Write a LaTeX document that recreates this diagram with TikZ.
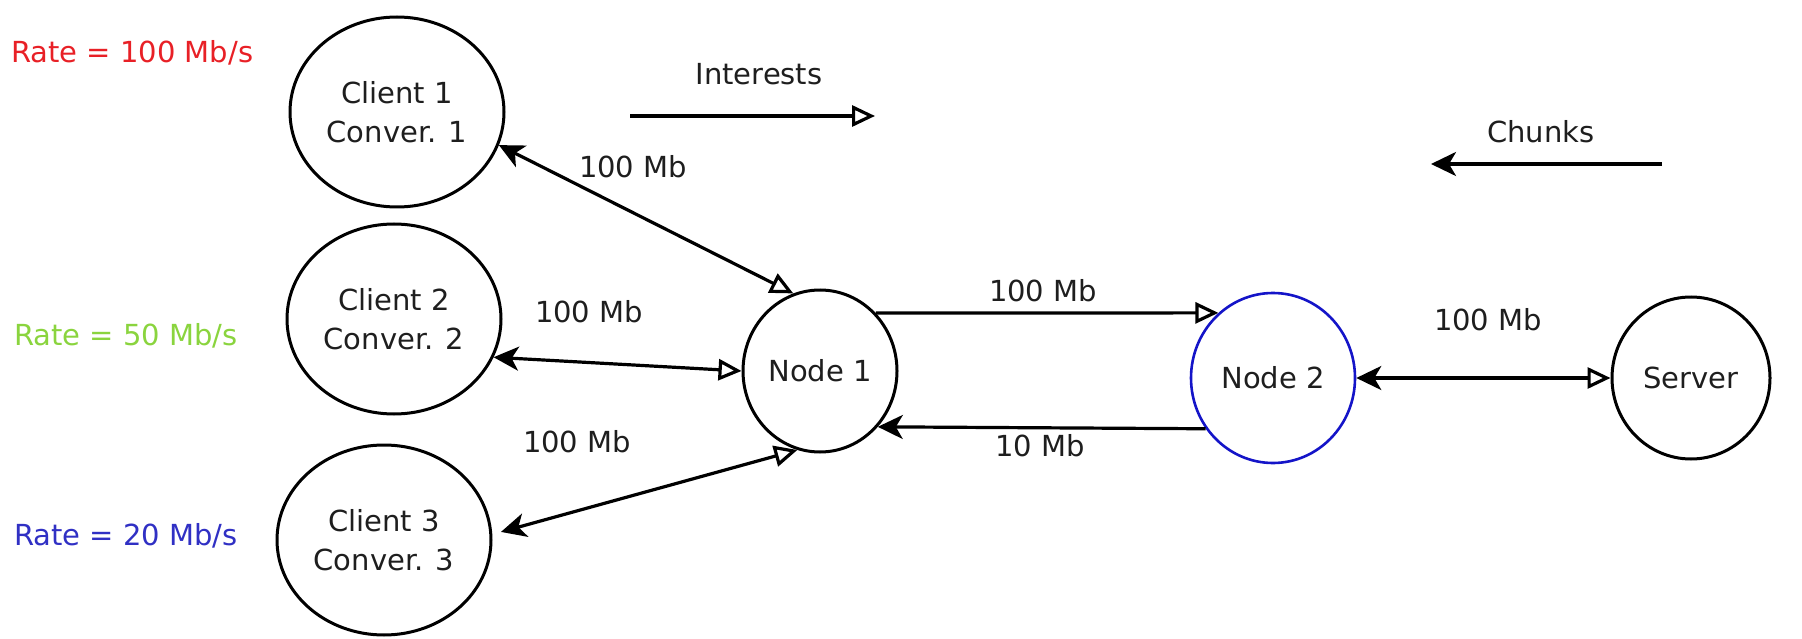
\documentclass[tikz,border=0pt]{standalone}
\usepackage{fontspec}
\setmainfont{DejaVu Sans}
\usetikzlibrary{shapes.geometric,arrows.meta}
\definecolor{ink}{RGB}{30,30,30}
\definecolor{ratered}{RGB}{232,32,38}
\definecolor{rategreen}{RGB}{138,212,62}
\definecolor{rateblue}{RGB}{48,48,196}
\definecolor{edgeblue}{RGB}{20,20,200}
\tikzset{
  txt/.style={font=\fontsize{29}{39}\selectfont, text=ink, inner sep=0pt},
  host/.style={ellipse, draw, line width=3pt, inner sep=0pt, align=center,
               font=\fontsize{29}{39}\selectfont, text=ink},
  client/.style={host, minimum width=214pt, minimum height=190pt},
  router/.style={host, minimum width=154pt, minimum height=162pt},
  duplex/.style={line width=3.2pt, {Stealth[length=25pt, width=24pt, inset=7pt]}-{Triangle[open, length=23pt, width=21pt]}},
  toopen/.style={line width=3.2pt, -{Triangle[open, length=23pt, width=21pt]}},
  tosolid/.style={line width=3.2pt, -{Stealth[length=25pt, width=24pt, inset=7pt]}},
}
\begin{document}
\begin{tikzpicture}[x=1pt, y=-1pt]
\useasboundingbox (0,0) rectangle (1802,639);

% hosts
\node[client] (c1) at (397,112) {Client 1\\Conver. 1};
\node[client] (c2) at (394,319) {Client 2\\Conver. 2};
\node[client] (c3) at (384,540) {Client 3\\Conver. 3};
\node[router] (n1) at (820,371) {Node 1};
\node[router, draw=edgeblue, line width=2.6pt, minimum width=164pt, minimum height=170pt] (n2) at (1273,378) {Node 2};
\node[host, minimum width=158pt, minimum height=162pt] (srv) at (1691,378) {Server};

% rates
\node[txt, text=ratered, anchor=base west] (r1) at (11,63) {Rate = 100 Mb/s};
\node[txt, text=rategreen, anchor=base west] (r2) at (14,345) {Rate = 50 Mb/s};
\node[txt, text=rateblue, anchor=base west] (r3) at (14,545) {Rate = 20 Mb/s};

% legend arrows
\node[txt, anchor=base] (lint) at (759,85) {Interests};
\coordinate (ia) at (630,116);
\coordinate (ib) at (875,116);
\draw[toopen] (ia) -- (ib);
\node[txt, anchor=base] (lchk) at (1541,143) {Chunks};
\coordinate (ca) at (1662,164);
\coordinate (cb) at (1431,164);
\draw[tosolid] (ca) -- (cb);

% links
\draw[duplex] (c1.-18) -- (n1.109);
\draw[duplex] (c2.-21) -- (n1.180);
\draw[duplex, shorten <=9pt] (c3.3) -- (n1.254);
\draw[toopen] (n1.46) -- (n2.130);
\draw[tosolid] (n2.217) -- (n1.-44);
\draw[duplex] (n2.east) -- (srv.west);

% link labels
\node[txt, anchor=base] (l1) at (633,178) {100 Mb};
\node[txt, anchor=base] (l2) at (589,322) {100 Mb};
\node[txt, anchor=base] (l3) at (577,452) {100 Mb};
\node[txt, anchor=base] (l4) at (1043,301) {100 Mb};
\node[txt, anchor=base] (l5) at (1040,456) {10 Mb};
\node[txt, anchor=base] (l6) at (1488,330) {100 Mb};
\end{tikzpicture}
\end{document}
